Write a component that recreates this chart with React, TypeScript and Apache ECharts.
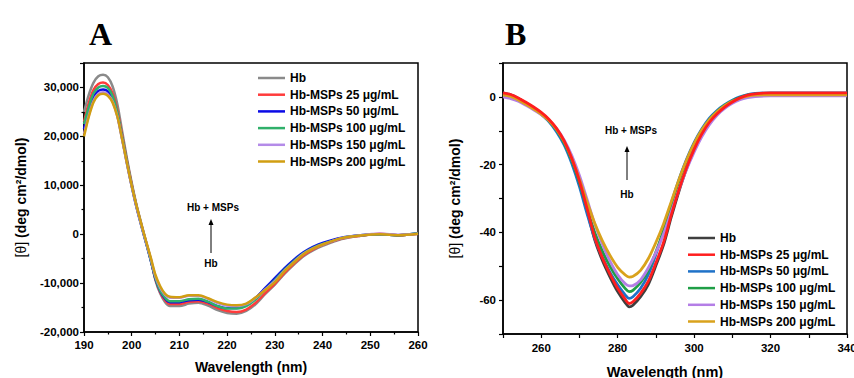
import React, { useEffect, useRef } from "react";
import * as echarts from "echarts";

// ---------- Panel A: far-UV CD ----------
const wavelengthA = [190, 191, 192, 193, 194, 195, 196, 197, 198, 199, 200, 201, 202, 203, 204, 205, 206, 207, 208, 210, 212, 214, 216, 218, 220, 222, 224, 226, 228, 230, 232, 234, 236, 238, 240, 244, 248, 252, 256, 260];
const hbA = [25000, 28500, 31000, 32300, 32600, 32100, 30200, 26500, 21000, 15500, 10500, 6000, 2200, -1500, -5200, -9500, -12200, -13900, -14700, -14700, -14200, -14000, -14600, -15500, -16100, -16250, -15700, -14300, -12200, -10300, -8100, -6200, -4500, -3300, -2400, -1000, -300, 0, -200, 100];
const msp25A = [23000, 26800, 29500, 30700, 31000, 30500, 28800, 25300, 20200, 15000, 10200, 5800, 2000, -1600, -5200, -9300, -11900, -13500, -14300, -14300, -13800, -13700, -14200, -15100, -15700, -15900, -15400, -14000, -12000, -10100, -7900, -6000, -4300, -3100, -2200, -900, -300, 100, -200, 100];
const msp50A = [21500, 25200, 28000, 29300, 29600, 29200, 27600, 24300, 19500, 14500, 9800, 5500, 1800, -1800, -5400, -9200, -11700, -13200, -13900, -13900, -13500, -13400, -13900, -14700, -15100, -15100, -14500, -13000, -11000, -9000, -7000, -5200, -3700, -2600, -1800, -700, -200, 0, -200, 200];
const msp100A = [22500, 26000, 28800, 30000, 30300, 29900, 28200, 24800, 19800, 14800, 10000, 5700, 1900, -1700, -5300, -9100, -11600, -13000, -13700, -13700, -13300, -13200, -13800, -14700, -15200, -15200, -14700, -13300, -11300, -9400, -7300, -5500, -3900, -2800, -2000, -800, -200, 0, -200, 200];
const msp150A = [20500, 24300, 27300, 28700, 29000, 28600, 27100, 24000, 19300, 14400, 9800, 5600, 1900, -1600, -5000, -8700, -11000, -12400, -13000, -13000, -12600, -12600, -13200, -14100, -14600, -14700, -14300, -13000, -11300, -9600, -7500, -5700, -4000, -2900, -2100, -800, -200, 100, -100, 100];
const msp200A = [20000, 24000, 27000, 28400, 28700, 28300, 26900, 24000, 19400, 14500, 9900, 5800, 2100, -1400, -4800, -8400, -10700, -12200, -12800, -12900, -12500, -12500, -13100, -13900, -14400, -14550, -14200, -12900, -11400, -9800, -7600, -5800, -4100, -2950, -2100, -800, -250, 0, -200, 100];

// ---------- Panel B: near-UV CD ----------
const wavelengthB = [250, 252, 254, 256, 258, 260, 262, 264, 266, 268, 270, 272, 274, 276, 278, 280, 282, 283, 284, 286, 288, 290, 292, 294, 296, 298, 300, 302, 304, 306, 308, 310, 312, 314, 316, 320, 330, 340];
const hbB = [1.0, 0.5, -0.5, -1.8, -3.2, -4.8, -6.8, -9.6, -13.3, -18.6, -25.3, -33.6, -42.2, -48.3, -53.2, -57.5, -60.8, -62, -61.5, -59, -55.4, -49.8, -43.7, -35.6, -28, -21.3, -15.8, -11.2, -7.6, -5.1, -3.1, -1.6, -0.4, 0.4, 0.8, 1.0, 1.0, 1.0];
const msp25B = [1.2, 0.7, -0.3, -1.6, -3.0, -4.6, -6.6, -9.3, -13.0, -18.2, -24.8, -33, -41.5, -47.5, -52.3, -56.5, -59.8, -61, -60.5, -58, -54.5, -49, -43, -35, -27.5, -21, -15.5, -11, -7.5, -5, -3, -1.5, -0.3, 0.5, 0.9, 1.2, 1.2, 1.2];
const msp50B = [1.2, 0.6, -0.5, -2.0, -3.5, -5.2, -7.3, -10.3, -14.2, -19.7, -26.5, -34.5, -41.8, -47.3, -51.8, -55.5, -58.5, -59.5, -59, -56.5, -52.5, -46.5, -39.5, -31.5, -24.5, -18.5, -13.5, -9.5, -6.3, -4, -2.3, -1, 0, 0.7, 1.0, 1.2, 1.2, 1.2];
const msp100B = [0.9, 0.4, -0.6, -2.0, -3.4, -5.0, -7.0, -9.8, -13.6, -18.8, -25.3, -33, -40, -45.5, -50, -53.7, -56.6, -57.5, -57.1, -54.8, -51.2, -45.8, -39.5, -32, -25, -19, -14, -9.9, -6.7, -4.3, -2.5, -1.2, -0.2, 0.5, 0.8, 1.0, 1.0, 1.0];
const msp150B = [0, -0.5, -1.3, -2.5, -3.8, -5.2, -6.9, -9.3, -12.7, -17.3, -23.2, -30.3, -37.5, -43.5, -48.5, -52.5, -55.2, -55.8, -55.7, -54, -50.5, -46, -40.5, -34, -27.5, -21.5, -16.3, -11.8, -8.2, -5.4, -3.4, -1.9, -0.8, -0.2, 0.1, 0.3, 0.3, 0.3];
const msp200B = [0.6, 0.1, -0.9, -2.2, -3.6, -5.1, -7.0, -9.6, -13.2, -18.2, -24.3, -31, -37.3, -42.5, -46.8, -50.3, -52.6, -53.2, -53, -51.2, -47.8, -43, -37.5, -31, -24.5, -18.7, -13.8, -9.8, -6.7, -4.4, -2.6, -1.3, -0.4, 0.2, 0.5, 0.6, 0.6, 0.6];

const seriesNames = ["Hb", "Hb-MSPs 25 μg/mL", "Hb-MSPs 50 μg/mL", "Hb-MSPs 100 μg/mL", "Hb-MSPs 150 μg/mL", "Hb-MSPs 200 μg/mL"];
const colorsA = ["#8a8a8a", "#ff3b3b", "#0a0ae6", "#30b06a", "#b48be8", "#d19e12"];
const colorsB = ["#3f3f3f", "#ff1e1e", "#1f72c8", "#1f9e46", "#b47ee6", "#d9a21c"];

const SANS = '"Liberation Sans", Arial, sans-serif';
const SUFFIX = "\u200B";

function zip(xs: number[], ys: number[]) {
  return xs.map((x, i) => [x, ys[i]]);
}

export default function App() {
  const ref = useRef<HTMLDivElement>(null);
  useEffect(() => {
    document.body.style.margin = "0";
    if (!ref.current) return;
    const chart = echarts.init(ref.current, null, { renderer: "svg" });

    const dataA = [hbA, msp25A, msp50A, msp100A, msp150A, msp200A];
    const dataB = [hbB, msp25B, msp50B, msp100B, msp150B, msp200B];
    const orderB = [0, 2, 3, 4, 5, 1];

    const axisLine = { show: true, onZero: false, lineStyle: { color: "#000", width: 1.5 } };
    const labelStyle = { color: "#000", fontWeight: "bold" as const, fontFamily: SANS, fontSize: 11.5 };

    const series: any[] = [];
    dataA.forEach((d, i) => {
      series.push({
        type: "line",
        name: seriesNames[i],
        xAxisIndex: 0,
        yAxisIndex: 0,
        data: zip(wavelengthA, d),
        smooth: 0.3,
        symbol: "none",
        lineStyle: { color: colorsA[i], width: 2.5 },
        itemStyle: { color: colorsA[i] },
      });
    });
    orderB.forEach((i) => {
      series.push({
        type: "line",
        name: seriesNames[i] + SUFFIX,
        xAxisIndex: 1,
        yAxisIndex: 1,
        data: zip(wavelengthB, dataB[i]),
        smooth: 0.3,
        symbol: "none",
        lineStyle: { color: colorsB[i], width: 2.8 },
        itemStyle: { color: colorsB[i] },
      });
    });

    const legendCommon = {
      orient: "vertical" as const,
      icon: "rect",
      itemWidth: 27,
      itemHeight: 2.5,
      itemGap: 4.7,
      selectedMode: false,
      textStyle: { color: "#000", fontWeight: "bold" as const, fontFamily: SANS, fontSize: 12, lineHeight: 12 },
      formatter: (n: string) => n.replace(SUFFIX, ""),
      padding: 0,
    };

    const arrow = (x: number, yTop: number, yBottom: number) => [
      { type: "line", shape: { x1: x, y1: yTop + 4, x2: x, y2: yBottom }, style: { stroke: "#000", lineWidth: 1 } },
      { type: "polygon", shape: { points: [[x, yTop], [x - 2.5, yTop + 6], [x + 2.5, yTop + 6]] }, style: { fill: "#000" } },
    ];
    const annText = (text: string, x: number, y: number) => ({
      type: "text",
      x,
      y,
      style: { text, fill: "#000", font: `bold 10px ${SANS}`, align: "center", verticalAlign: "middle" },
    });

    chart.setOption({
      animation: false,
      grid: [
        { left: 84, top: 63, width: 334, height: 269, show: true, borderColor: "#000", borderWidth: 1.5, outerBoundsMode: "none", containLabel: false },
        { left: 503, top: 63, width: 344, height: 271, show: true, borderColor: "#000", borderWidth: 1.5, outerBoundsMode: "none", containLabel: false },
      ],
      xAxis: [
        {
          type: "value", gridIndex: 0, min: 190, max: 260, interval: 10,
          name: "Wavelength (nm)", nameLocation: "middle", nameGap: 28,
          nameTextStyle: { color: "#000", fontWeight: "bold", fontFamily: SANS, fontSize: 14 },
          axisLine, axisTick: { inside: false, length: 4, lineStyle: { color: "#000", width: 1.2 } },
          minorTick: { show: true, splitNumber: 2, length: 2.5, lineStyle: { color: "#000", width: 1.2 } },
          splitLine: { show: false }, minorSplitLine: { show: false },
          axisLabel: { ...labelStyle, margin: 7 },
        },
        {
          type: "value", gridIndex: 1, min: 250, max: 340, interval: 10,
          name: "Wavelength (nm)", nameLocation: "middle", nameGap: 30,
          nameTextStyle: { color: "#000", fontWeight: "bold", fontFamily: SANS, fontSize: 14.5, padding: [0, 20, 0, 0] },
          axisLine, axisTick: { inside: false, length: 4, lineStyle: { color: "#000", width: 1.2 } },
          splitLine: { show: false },
          axisLabel: { ...labelStyle, margin: 8, formatter: (v: number) => (v % 20 === 0 ? String(v) : "") },
        },
      ],
      yAxis: [
        {
          type: "value", gridIndex: 0, min: -20000, max: 35000, interval: 10000,
          name: "{r|[θ]} (deg cm²/dmol)", nameLocation: "middle", nameGap: 56, nameRotate: 90,
          nameTextStyle: {
            color: "#000", fontWeight: "bold", fontFamily: SANS, fontSize: 14,
            rich: { r: { fontWeight: "normal", fontFamily: SANS, fontSize: 14, color: "#000" } },
          },
          axisLine, axisTick: { inside: false, length: 4, lineStyle: { color: "#000", width: 1.2 } },
          minorTick: { show: true, splitNumber: 2, length: 2.5, lineStyle: { color: "#000", width: 1.2 } },
          splitLine: { show: false }, minorSplitLine: { show: false },
          axisLabel: {
            ...labelStyle, margin: 5, showMaxLabel: false,
            formatter: (v: number) => (v % 10000 === 0 ? v.toLocaleString("en-US") : ""),
          },
        },
        {
          type: "value", gridIndex: 1, min: -70, max: 10, interval: 10,
          name: "{r|[θ]} (deg cm²/dmol)", nameLocation: "middle", nameGap: 41, nameRotate: 90,
          nameTextStyle: {
            color: "#000", fontWeight: "bold", fontFamily: SANS, fontSize: 14,
            rich: { r: { fontWeight: "normal", fontFamily: SANS, fontSize: 14, color: "#000" } },
          },
          axisLine, axisTick: { inside: false, length: 4, lineStyle: { color: "#000", width: 1.2 } },
          splitLine: { show: false },
          axisLabel: { ...labelStyle, margin: 7, formatter: (v: number) => (v % 20 === 0 ? String(v) : "") },
        },
      ],
      legend: [
        { ...legendCommon, left: 258, top: 72, data: seriesNames },
        { ...legendCommon, left: 688, top: 232, data: seriesNames.map((n) => n + SUFFIX) },
      ],
      graphic: [
        { type: "text", left: 89, top: 18, style: { text: "A", fill: "#000", font: 'bold 32px "Liberation Serif", serif' } },
        { type: "text", left: 505, top: 18, style: { text: "B", fill: "#000", font: 'bold 32px "Liberation Serif", serif' } },
        annText("Hb + MSPs", 213, 207),
        ...arrow(211, 219, 253),
        annText("Hb", 211, 263),
        annText("Hb + MSPs", 631, 130),
        ...arrow(627, 146, 180),
        annText("Hb", 627, 194),
      ],
      series,
    });

    return () => chart.dispose();
  }, []);
  return <div ref={ref} style={{ width: 854, height: 378 }} />;
}
